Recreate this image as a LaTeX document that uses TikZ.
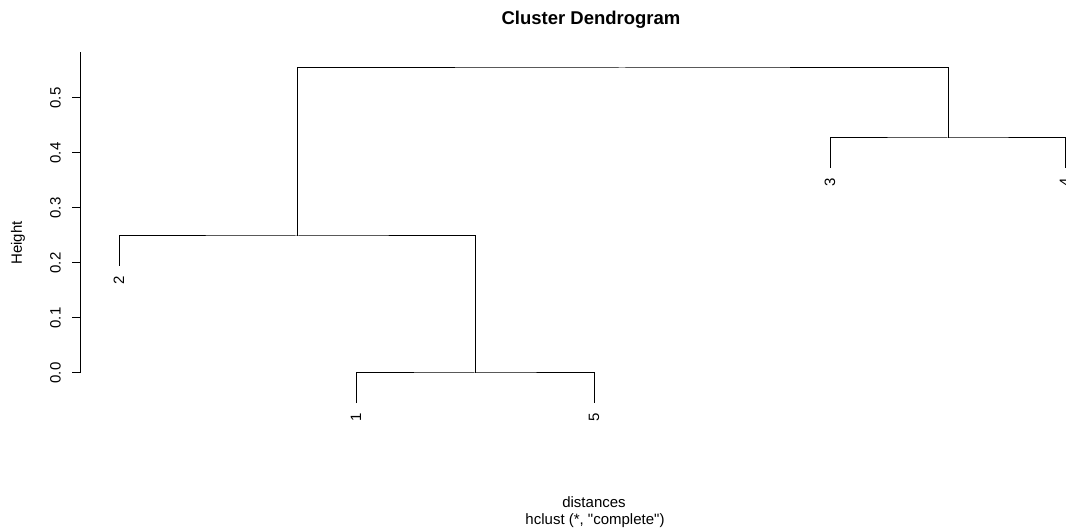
\documentclass[tikz,border=0pt]{standalone}
\usepackage{fontspec}
\setmainfont{Liberation Sans}[Ligatures=TeXOff]
\usetikzlibrary{calc}
\begin{document}
\begin{tikzpicture}[x=1pt,y=-1pt,
  link/.style={draw=black,line width=1pt},
  leaflab/.style={rotate=90,anchor=east,inner sep=0pt,font=\fontsize{15}{15}\selectfont},
  ticklab/.style={rotate=90,anchor=south,inner sep=0pt,font=\fontsize{15}{15}\selectfont},
  axlab/.style={inner sep=0pt,font=\fontsize{15}{15}\selectfont}]
\useasboundingbox (0,0) rectangle (1066,529);
\clip (0,0) rectangle (1066,529);
% title
\node[anchor=base,inner sep=0pt,font=\fontsize{18.5}{18.5}\selectfont\bfseries] (title) at (591,25) {Cluster Dendrogram};
% y axis
\coordinate (ax0) at (80,373);
\coordinate (ax1) at (80,52);
\draw[link] (ax0) -- (ax1);
\foreach \v/\y in {0.0/373,0.1/318,0.2/263,0.3/208,0.4/153,0.5/98}{
  \draw[link] (72,\y) -- (80,\y);
  \node[ticklab] at (61,\y) {\v};
}
\node[axlab,rotate=90] (ylab) at (18,243) {Height};
% merge points
\coordinate (m15) at (475,373);
\coordinate (m215) at (297,236);
\coordinate (m34) at (948,138);
\coordinate (mtop) at (622,68);
% leaves
\coordinate (l2) at (119,266);
\coordinate (l1) at (356,403);
\coordinate (l5) at (594,403);
\coordinate (l3) at (830,168);
\coordinate (l4) at (1065,168);
\draw[link] (l1) |- (m15) -| (l5);
\draw[link] (l2) |- (m215) -| (m15);
\draw[link] (l3) |- (m34) -| (l4);
\draw[link] (m215) |- (mtop) -| (m34);
% leaf labels
\node[leaflab] (t2) at ($(l2)+(0,10)$) {2};
\node[leaflab] (t1) at ($(l1)+(0,10)$) {1};
\node[leaflab] (t5) at ($(l5)+(0,10)$) {5};
\node[leaflab] (t3) at ($(l3)+(0,10)$) {3};
\node[leaflab] (t4) at ($(l4)+(0,10)$) {4};
% x labels
\node[axlab,anchor=base] (xl1) at (594,507) {distances};
\node[axlab,anchor=base] (xl2) at (595,524) {hclust (*, "complete")};
\end{tikzpicture}
\end{document}
